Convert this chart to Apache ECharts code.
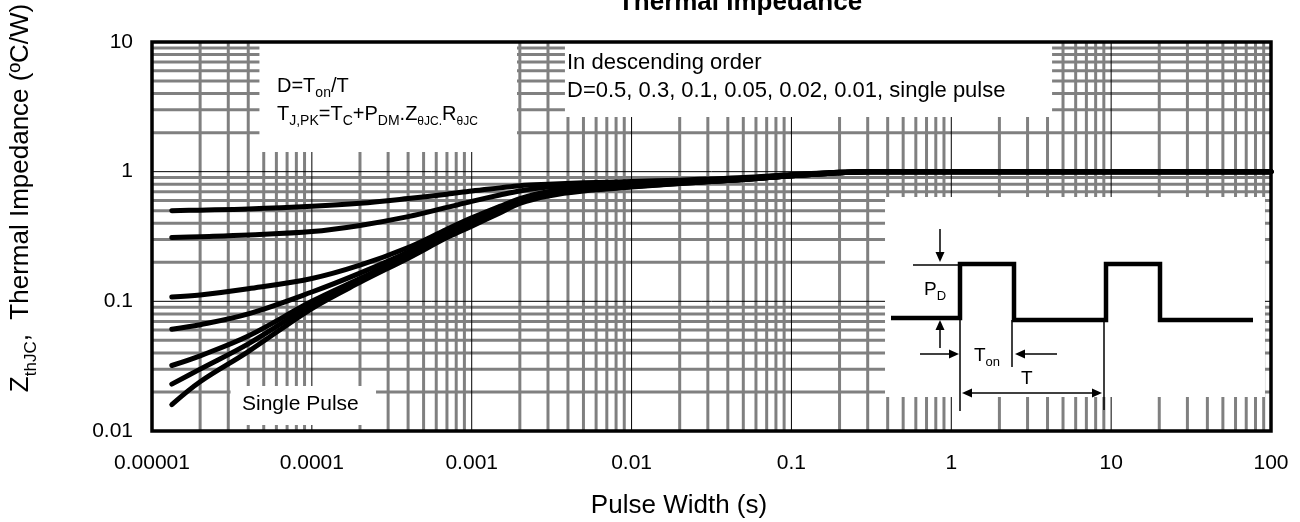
<!DOCTYPE html>
<html><head><meta charset="utf-8">
<script src="https://cdn.jsdelivr.net/npm/echarts@6/dist/echarts.min.js"></script>
<style>html,body{margin:0;padding:0;background:#fff}#c{width:1300px;height:522px}</style>
</head><body><div id="c"></div>
<script>
// ---- data ----
const pulseWidth = [1.33e-5, 2e-5, 4e-5, 1e-4, 2e-4, 4e-4, 7e-4, 1e-3, 1.5e-3, 2e-3, 3e-3, 5e-3, 1e-2, 2e-2, 5e-2, 0.1, 0.2, 0.3, 1, 10, 100];
const zD050 = [0.50, 0.505, 0.515, 0.54, 0.57, 0.62, 0.67, 0.71, 0.75, 0.78, 0.80, 0.82, 0.84, 0.86, 0.90, 0.95, 0.99, 1.0, 1.0, 1.0, 1.0];
const zD030 = [0.31, 0.315, 0.325, 0.345, 0.385, 0.45, 0.53, 0.59, 0.66, 0.71, 0.76, 0.79, 0.82, 0.85, 0.89, 0.94, 0.99, 1.0, 1.0, 1.0, 1.0];
const zD010 = [0.108, 0.112, 0.125, 0.15, 0.19, 0.26, 0.36, 0.44, 0.54, 0.62, 0.70, 0.75, 0.79, 0.83, 0.88, 0.93, 0.99, 1.0, 1.0, 1.0, 1.0];
const zD005 = [0.061, 0.066, 0.08, 0.118, 0.165, 0.24, 0.34, 0.42, 0.52, 0.60, 0.68, 0.74, 0.78, 0.82, 0.87, 0.93, 0.98, 1.0, 1.0, 1.0, 1.0];
const zD002 = [0.032, 0.038, 0.054, 0.10, 0.15, 0.225, 0.32, 0.40, 0.50, 0.59, 0.67, 0.73, 0.77, 0.82, 0.87, 0.93, 0.98, 1.0, 1.0, 1.0, 1.0];
const zD001 = [0.023, 0.03, 0.047, 0.094, 0.145, 0.22, 0.315, 0.39, 0.49, 0.58, 0.66, 0.72, 0.77, 0.81, 0.87, 0.93, 0.98, 1.0, 1.0, 1.0, 1.0];
const zSingle = [0.016, 0.024, 0.041, 0.088, 0.14, 0.215, 0.31, 0.38, 0.48, 0.57, 0.65, 0.71, 0.76, 0.81, 0.87, 0.93, 0.98, 1.0, 1.0, 1.0, 1.0];
const curveNames = ['D=0.5', 'D=0.3', 'D=0.1', 'D=0.05', 'D=0.02', 'D=0.01', 'Single Pulse'];
const xTickLabels = ['0.00001', '0.0001', '0.001', '0.01', '0.1', '1', '10', '100'];
const yTickLabels = ['0.01', '0.1', '1', '10'];

// ---- layout ----
const FONT = "'Liberation Sans', Arial, sans-serif";
const X_MIN = 1e-5, X_MAX = 100, Y_MIN = 0.01, Y_MAX = 10;
// white annotation panels, in data coordinates [x0, x1, y0, y1]
const panels = [
  [4.7e-5, 1.92e-3, 1.42, 10],
  [3.83e-3, 4.27, 2.64, 10],
  [3.1e-5, 2.52e-4, 0.0111, 0.0222],
  [0.385, 91.7, 0.0183, 0.638]
];

const allZ = [zD050, zD030, zD010, zD005, zD002, zD001, zSingle];

function decadesMinor(lo, hi) {
  const out = [];
  for (let e = Math.round(Math.log10(lo)); e < Math.round(Math.log10(hi)); e++) {
    for (let m = 2; m <= 9; m++) out.push(m * Math.pow(10, e));
  }
  return out;
}
function decadesMajor(lo, hi) {
  const out = [];
  for (let e = Math.round(Math.log10(lo)) + 1; e < Math.round(Math.log10(hi)); e++) out.push(Math.pow(10, e));
  return out;
}

const chart = echarts.init(document.getElementById('c'), null, {renderer: 'canvas'});

const gridSeries = {
  type: 'custom', z: 1, silent: true, clip: false, animation: false,
  data: [[0.001, 0.1]],
  renderItem: function (params, api) {
    const ch = [];
    decadesMinor(X_MIN, X_MAX).forEach(v => {
      const a = api.coord([v, Y_MAX]), b = api.coord([v, Y_MIN]);
      ch.push({type: 'line', shape: {x1: a[0], y1: a[1], x2: b[0], y2: b[1]}, style: {stroke: '#808080', lineWidth: 3}});
    });
    decadesMinor(Y_MIN, Y_MAX).forEach(v => {
      const a = api.coord([X_MIN, v]), b = api.coord([X_MAX, v]);
      ch.push({type: 'line', shape: {x1: a[0], y1: a[1], x2: b[0], y2: b[1]}, style: {stroke: '#808080', lineWidth: 3}});
    });
    decadesMajor(X_MIN, X_MAX).forEach(v => {
      const a = api.coord([v, Y_MAX]), b = api.coord([v, Y_MIN]);
      ch.push({type: 'line', shape: {x1: a[0], y1: a[1], x2: b[0], y2: b[1]}, style: {stroke: '#000', lineWidth: 1}});
    });
    decadesMajor(Y_MIN, Y_MAX).forEach(v => {
      const a = api.coord([X_MIN, v]), b = api.coord([X_MAX, v]);
      ch.push({type: 'line', shape: {x1: a[0], y1: a[1], x2: b[0], y2: b[1]}, style: {stroke: '#000', lineWidth: 1}});
    });
    return {type: 'group', children: ch};
  }
};

const panelSeries = {
  type: 'custom', z: 2, silent: true, clip: false, animation: false,
  data: panels.map(p => [p[0], p[2], p[1], p[3]]),
  renderItem: function (params, api) {
    const a = api.coord([api.value(0), api.value(3)]);
    const b = api.coord([api.value(2), api.value(1)]);
    return {type: 'rect', shape: {x: a[0], y: a[1], width: b[0] - a[0], height: b[1] - a[1]}, style: {fill: '#fff'}};
  }
};

const frameSeries = {
  type: 'custom', z: 6, silent: true, clip: false, animation: false,
  data: [[0.001, 0.1]],
  renderItem: function (params, api) {
    const a = api.coord([X_MIN, Y_MAX]), b = api.coord([X_MAX, Y_MIN]);
    return {type: 'rect', shape: {x: a[0], y: a[1], width: b[0] - a[0], height: b[1] - a[1]}, style: {fill: 'none', stroke: '#000', lineWidth: 3.5}};
  }
};

const curveSeries = allZ.map((arr, i) => ({
  type: 'line', name: curveNames[i], z: 4, showSymbol: false, symbol: 'none',
  smooth: 0.35, animation: false, silent: true,
  lineStyle: {color: '#000', width: 5, cap: 'round', join: 'round'},
  data: pulseWidth.map((x, j) => [x, arr[j]])
}));

// ---- annotation helpers ----
function line(x1, y1, x2, y2, w) {
  return {type: 'line', z: 100, silent: true, shape: {x1, y1, x2, y2}, style: {stroke: '#000', lineWidth: w || 1.5}};
}
function head(tx, ty, dir) { // arrow head with tip at (tx,ty)
  const L = 10, W = 4.5;
  let pts;
  if (dir === 'down') pts = [[tx, ty], [tx - W, ty - L], [tx + W, ty - L]];
  if (dir === 'up') pts = [[tx, ty], [tx - W, ty + L], [tx + W, ty + L]];
  if (dir === 'right') pts = [[tx, ty], [tx - L, ty - W], [tx - L, ty + W]];
  if (dir === 'left') pts = [[tx, ty], [tx + L, ty - W], [tx + L, ty + W]];
  return {type: 'polygon', z: 100, silent: true, shape: {points: pts}, style: {fill: '#000'}};
}
function txt(x, y, text, size, extra) {
  return Object.assign({type: 'text', z: 100, silent: true, x, y,
    style: Object.assign({text, fill: '#000', font: size + 'px ' + FONT, fontSize: size, fontFamily: FONT, align: 'left', verticalAlign: 'middle'}, extra || {})});
}
function subRich(main, sub, L) {
  return {
    m: {fontSize: main, fontFamily: FONT, lineHeight: L, fill: '#000'},
    s: {fontSize: sub, fontFamily: FONT, lineHeight: sub, verticalAlign: 'bottom', fill: '#000'},
    t: {fontSize: sub - 2, fontFamily: FONT, lineHeight: sub - 2, verticalAlign: 'bottom', fill: '#000'}
  };
}

const graphics = [
  // title (cut at top as in reference)
  txt(740, 3, 'Thermal Impedance', 26, {align: 'center', fontWeight: 'bold', font: 'bold 26px ' + FONT}),
  // axis names
  txt(679, 506, 'Pulse Width (s)', 26, {align: 'center'}),
  {type: 'text', z: 100, silent: true, x: 21, y: 198, rotation: Math.PI / 2,
    style: {text: '{m|Z}{s|thJC}{m|,  Thermal Impedance (ºC/W)}', align: 'center', verticalAlign: 'middle', rich: subRich(26, 17, 37)}},
  // box 1
  {type: 'text', z: 100, silent: true, x: 277, y: 86,
    style: {text: '{m|D=T}{s|on}{m|/T}', align: 'left', verticalAlign: 'middle', rich: subRich(20, 14, 28)}},
  {type: 'text', z: 100, silent: true, x: 277, y: 114,
    style: {text: '{m|T}{s|J,PK}{m|=T}{s|C}{m|+P}{s|DM}{m|.Z}{t|θJC.}{m|R}{t|θJC}', align: 'left', verticalAlign: 'middle', rich: subRich(20, 14, 28)}},
  // box 2
  txt(567, 63, 'In descending order', 22),
  txt(567, 91, 'D=0.5, 0.3, 0.1, 0.05, 0.02, 0.01, single pulse', 22),
  // single pulse label
  txt(242, 404, 'Single Pulse', 21),
  // inset pulse diagram
  {type: 'polyline', z: 100, silent: true,
    shape: {points: [[891, 318], [960, 318], [960, 264], [1014, 264], [1014, 320], [1106, 320], [1106, 264], [1160, 264], [1160, 320], [1253, 320]]},
    style: {stroke: '#000', lineWidth: 4.5, fill: null, lineJoin: 'miter'}},
  line(913, 265, 958, 265),
  line(940, 229, 940, 254), head(940, 262, 'down'),
  line(940, 348, 940, 328), head(940, 320, 'up'),
  line(960, 320, 960, 411),
  line(920, 354, 951, 354), head(959, 354, 'right'),
  line(1012, 320, 1012, 367),
  line(1057, 354, 1023, 354), head(1015, 354, 'left'),
  line(970, 393, 1094, 393), head(962, 393, 'left'), head(1102, 393, 'right'),
  line(1104, 320, 1104, 410),
  {type: 'text', z: 100, silent: true, x: 924, y: 290,
    style: {text: '{m|P}{s|D}', align: 'left', verticalAlign: 'middle', rich: subRich(19, 13, 26)}},
  {type: 'text', z: 100, silent: true, x: 974, y: 356,
    style: {text: '{m|T}{s|on}', align: 'left', verticalAlign: 'middle', rich: subRich(19, 13, 26)}},
  txt(1021, 379, 'T', 19)
];

const option = {
  backgroundColor: '#fff',
  animation: false,
  grid: {left: 152, right: 29, top: 42, bottom: 91, containLabel: false},
  xAxis: {
    type: 'log', logBase: 10, min: X_MIN, max: X_MAX, splitNumber: 7,
    axisLine: {show: false}, axisTick: {show: false}, splitLine: {show: false},
    axisLabel: {margin: 22, color: '#000', fontSize: 21, fontFamily: FONT,
      formatter: v => xTickLabels[Math.round(Math.log10(v)) + 5]}
  },
  yAxis: {
    type: 'log', logBase: 10, min: Y_MIN, max: Y_MAX, splitNumber: 3,
    axisLine: {show: false}, axisTick: {show: false}, splitLine: {show: false},
    axisLabel: {margin: 19, color: '#000', fontSize: 21, fontFamily: FONT,
      formatter: v => yTickLabels[Math.round(Math.log10(v)) + 2]}
  },
  graphic: {elements: graphics},
  series: [gridSeries, panelSeries].concat(curveSeries, [frameSeries])
};
chart.setOption(option);
</script>
</body></html>
